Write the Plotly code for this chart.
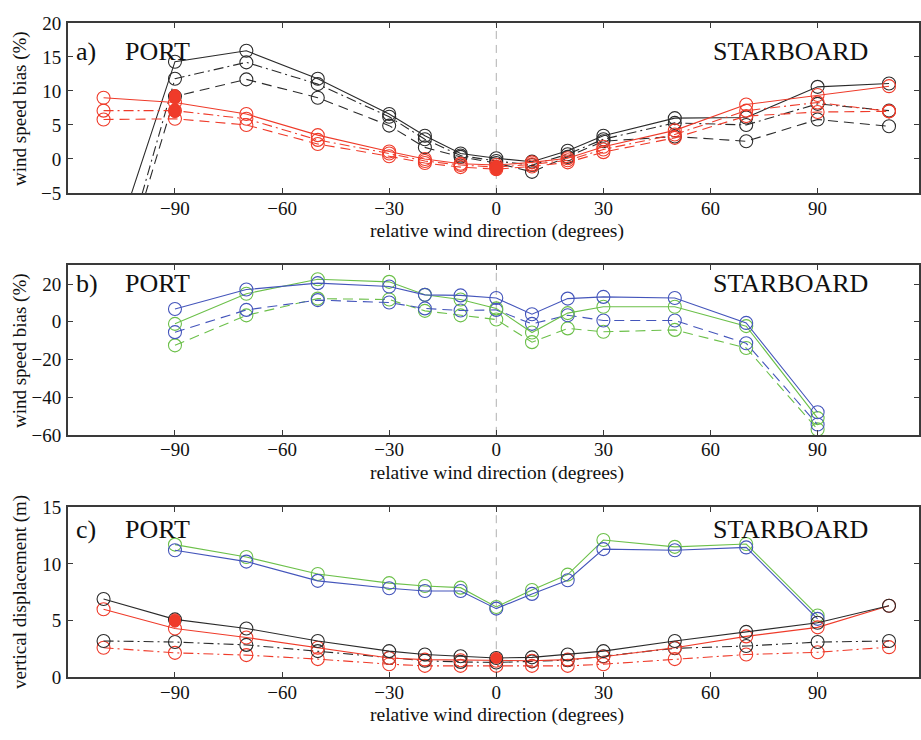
import plotly.graph_objects as go

# ---------------- data ----------------
XA = [-110, -90, -70, -50, -30, -20, -10, 0, 10, 20, 30, 50, 70, 90, 110]
XB = [-90, -70, -50, -30, -20, -10, 0, 10, 20, 30, 50, 70, 90]

# panel a: wind speed bias (%)
a_black_solid = [-17.5, 14.3, 15.9, 11.8, 6.6, 3.4, 0.8, 0.1, -0.4, 1.2, 3.4, 6.0, 6.1, 10.6, 11.1]
a_black_dashdot = [-25.0, 11.8, 14.2, 11.0, 6.2, 2.9, 0.5, -0.3, -0.9, 0.7, 2.9, 5.3, 5.0, 8.1, 7.1]
a_black_dash = [-25.5, 9.2, 11.7, 9.0, 4.9, 1.7, 0.3, -0.6, -1.9, 0.3, 2.6, 3.3, 2.6, 5.8, 4.8]
a_red_solid = [9.0, 8.3, 6.6, 3.5, 1.1, 0.0, -0.7, -0.9, -0.5, 0.1, 1.8, 4.2, 8.0, 9.4, 10.7]
a_red_dashdot = [7.1, 7.1, 5.9, 2.8, 0.8, -0.3, -0.9, -1.2, -0.8, -0.2, 1.4, 3.6, 7.1, 8.3, 7.0]
a_red_dash = [5.8, 5.9, 5.0, 2.2, 0.4, -0.6, -1.2, -1.5, -1.1, -0.5, 1.0, 3.1, 6.3, 6.9, 7.0]
a_filled_x = [-90, -90, -90, -90, 0, 0, 0]
a_filled_y = [9.4, 8.9, 7.3, 6.9, -1.0, -1.3, -1.6]

# panel b: wind speed bias (%)
b_blue_solid = [6.8, 17.1, 20.5, 18.7, 14.3, 14.0, 12.6, 4.0, 12.3, 13.2, 12.6, -0.6, -48.0]
b_green_solid = [-1.1, 14.9, 22.6, 21.2, 14.3, 11.8, 7.1, -5.7, 4.6, 8.0, 8.0, -2.3, -51.1]
b_blue_dash = [-5.5, 6.3, 11.5, 10.2, 7.1, 6.0, 6.3, -1.1, 3.5, 0.7, 0.7, -11.4, -54.5]
b_green_dash = [-12.5, 3.4, 12.3, 11.8, 5.8, 3.4, 1.2, -10.8, -3.5, -5.3, -4.3, -13.9, -57.1]

# panel c: vertical displacement (m)
c_black_solid = [6.9, 5.1, 4.3, 3.2, 2.3, 2.0, 1.85, 1.7, 1.75, 2.0, 2.3, 3.2, 4.0, 4.8, 6.3]
c_red_solid = [6.0, 4.3, 3.5, 2.6, 1.7, 1.55, 1.5, 1.45, 1.45, 1.55, 1.8, 2.6, 3.6, 4.4, 6.3]
c_black_dashdot = [3.2, 3.1, 2.85, 2.3, 1.7, 1.45, 1.35, 1.3, 1.4, 1.5, 1.85, 2.55, 2.75, 3.1, 3.2]
c_red_dashdot = [2.6, 2.15, 1.95, 1.6, 1.15, 1.0, 1.0, 1.0, 1.0, 1.0, 1.15, 1.6, 2.0, 2.2, 2.65]
c_blue_solid = [11.2, 10.2, 8.5, 7.85, 7.6, 7.6, 6.05, 7.35, 8.55, 11.3, 11.2, 11.45, 5.15]
c_green_solid = [11.7, 10.6, 9.1, 8.3, 8.05, 7.9, 6.2, 7.7, 9.05, 12.1, 11.5, 11.75, 5.45]
c_filled_x = [-90, -90, 0]
c_filled_y = [5.1, 4.9, 1.7]

X_TICKS = [-90, -60, -30, 0, 30, 60, 90]
A_YTICKS = [-5, 0, 5, 10, 15, 20]
B_YTICKS = [-60, -40, -20, 0, 20]
C_YTICKS = [0, 5, 10, 15]

# ---------------- style ----------------
W, H = 921, 740
FONT = "Liberation Serif"
BLACK = "#2b2b2b"
RED = "#ef3b2a"
BLUE = "#4455bb"
GREEN = "#6cc04a"
DASH = "10px,6px"
DASHDOT = "10px,4px,2px,4px"
AXC = "#3a3a3a"

fig = go.Figure()


def add_line(x, y, color, dash, xa, ya):
    fig.add_trace(go.Scatter(
        x=x, y=y, mode="lines+markers", xaxis=xa, yaxis=ya,
        line=dict(color=color, width=1.1, dash=dash),
        marker=dict(symbol="circle-open", size=13, color=color, line=dict(width=1.1)),
        showlegend=False, cliponaxis=True))


def add_filled(x, y, xa, ya):
    fig.add_trace(go.Scatter(
        x=x, y=y, mode="markers", xaxis=xa, yaxis=ya,
        marker=dict(symbol="circle", size=11, color=RED, line=dict(width=1, color=RED)),
        showlegend=False))


# panel a
add_line(XA, a_black_dash, BLACK, DASH, "x", "y")
add_line(XA, a_black_dashdot, BLACK, DASHDOT, "x", "y")
add_line(XA, a_black_solid, BLACK, "solid", "x", "y")
add_line(XA, a_red_dash, RED, DASH, "x", "y")
add_line(XA, a_red_dashdot, RED, DASHDOT, "x", "y")
add_line(XA, a_red_solid, RED, "solid", "x", "y")
add_filled(a_filled_x, a_filled_y, "x", "y")

# panel b
add_line(XB, b_green_dash, GREEN, DASH, "x2", "y2")
add_line(XB, b_blue_dash, BLUE, DASH, "x2", "y2")
add_line(XB, b_green_solid, GREEN, "solid", "x2", "y2")
add_line(XB, b_blue_solid, BLUE, "solid", "x2", "y2")

# panel c
add_line(XB, c_green_solid, GREEN, "solid", "x3", "y3")
add_line(XB, c_blue_solid, BLUE, "solid", "x3", "y3")
add_line(XA, c_red_dashdot, RED, DASHDOT, "x3", "y3")
add_line(XA, c_black_dashdot, BLACK, DASHDOT, "x3", "y3")
add_line(XA, c_red_solid, RED, "solid", "x3", "y3")
add_line(XA, c_black_solid, BLACK, "solid", "x3", "y3")
add_filled(c_filled_x, c_filled_y, "x3", "y3")

# ---------------- layout ----------------
x0 = 68 / W
XRANGE = [-120, 118.4]


def py(p):
    return 1 - p / H


panels = [  # (top px, bottom px, yrange, yticks)
    (13.3, 188.3, [-5, 20], A_YTICKS),
    (262.7, 437.3, [-60, 30], B_YTICKS),
    (511.7, 686.7, [0, 15], C_YTICKS),
]

layout = dict(
    width=W, height=H, autosize=False,
    margin=dict(l=0, r=0, t=0, b=0, pad=0),
    paper_bgcolor="white", plot_bgcolor="white",
    font=dict(family=FONT, size=18, color="#111"),
    showlegend=False,
)

for i, (top, bot, yr, yt) in enumerate(panels):
    sfx = "" if i == 0 else str(i + 1)
    layout["xaxis" + sfx] = dict(
        domain=[x0, 1], range=XRANGE, anchor="y" + sfx,
        tickvals=X_TICKS, ticks="inside", ticklen=5, tickwidth=1, tickcolor=AXC,
        showline=True, linecolor=AXC, linewidth=1.5, mirror="ticks",
        showgrid=False, zeroline=False, ticklabelstandoff=-3,
        tickfont=dict(family=FONT, size=19, color="#111"))
    layout["yaxis" + sfx] = dict(
        domain=[py(bot), py(top)], range=yr, anchor="x" + sfx,
        tickvals=yt, ticks="inside", ticklen=5, tickwidth=1, tickcolor=AXC,
        showline=True, linecolor=AXC, linewidth=1.5, mirror="ticks",
        showgrid=False, zeroline=False, ticklabelstandoff=1,
        tickfont=dict(family=FONT, size=19, color="#111"))

fig.update_layout(**layout)

# vertical dashed line at 0
for i in range(3):
    sfx = "" if i == 0 else str(i + 1)
    fig.add_shape(type="line", xref="x" + sfx, yref="y" + sfx + " domain",
                  x0=0, x1=0, y0=0, y1=1,
                  line=dict(color="#b0b0b0", width=1, dash="8px,6px"), layer="below")

# panel labels
label_rows = [("a)", 43), ("b)", 282), ("c)", 535)]
for lab, yc in label_rows:
    fig.add_annotation(text=lab, xref="paper", yref="paper", x=74 / W, y=py(yc),
                       xanchor="left", yanchor="middle", showarrow=False,
                       font=dict(family=FONT, size=26, color="#111"))
    fig.add_annotation(text="PORT", xref="paper", yref="paper", x=123 / W, y=py(yc),
                       xanchor="left", yanchor="middle", showarrow=False,
                       font=dict(family=FONT, size=26, color="#111"))
    fig.add_annotation(text="STARBOARD", xref="paper", yref="paper", x=713 / W, y=py(yc),
                       xanchor="left", yanchor="middle", showarrow=False,
                       font=dict(family=FONT, size=26, color="#111"))

# axis titles
for yc in (227, 477, 726):
    fig.add_annotation(text="relative wind direction (degrees)", xref="paper", yref="paper",
                       x=497.6 / W, y=py(yc), xanchor="center", yanchor="middle",
                       showarrow=False, font=dict(family=FONT, size=19.5, color="#111"))
for txt, yc in (("wind speed bias (%)", 100.8), ("wind speed bias (%)", 350),
                ("vertical displacement (m)", 599)):
    fig.add_annotation(text=txt, xref="paper", yref="paper", x=20 / W, y=py(yc),
                       xanchor="center", yanchor="middle", textangle=-90,
                       showarrow=False, font=dict(family=FONT, size=19, color="#111"))

fig.write_html("out.html")
